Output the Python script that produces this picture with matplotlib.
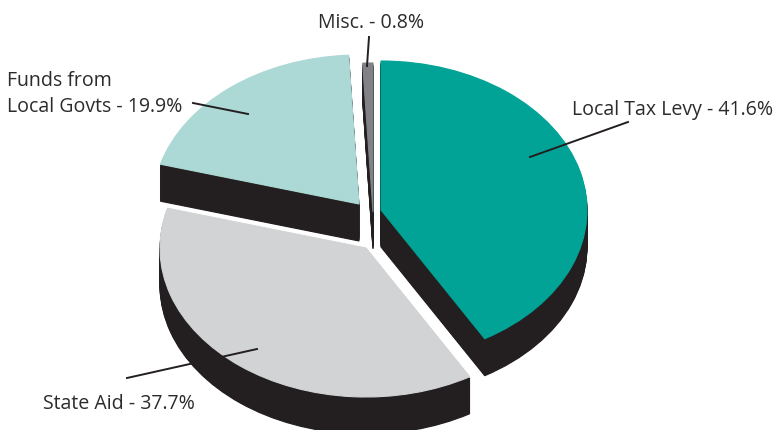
import matplotlib
matplotlib.use("Agg")
import matplotlib.pyplot as plt

# shares, clockwise from 12 o'clock
labels = ["Local Tax Levy", "State Aid", "Funds from\nLocal Govts", "Misc."]
shares = [41.6, 37.7, 19.9, 0.8]
colors = ["#00a396", "#d1d3d4", "#acd9d5", "#808285"]
dark = "#231f20"

W, H = 775, 430
RX, RY = 206, 149
DEPTH = 37
# pie centre of each slice, in pixels from top left
centers = [(381, 210), (366, 248), (359, 204), (373, 212)]
# drawing order, back slices first
order = [2, 3, 0, 1]

plt.rcParams["font.family"] = "Open Sans"

fig = plt.figure(figsize=(W / 100, H / 100), dpi=100)
ax = fig.add_axes([0, 0, 1, 1])


def draw_slice(i, cx, cy, color):
    start = 90 - sum(shares[:i]) * 3.6
    ax.pie([shares[i] / 100], startangle=start - shares[i] * 3.6, counterclock=True,
           normalize=False, colors=[color], center=(cx / RX, -cy / RY),
           wedgeprops={"linewidth": 0.8, "edgecolor": color}, radius=1)


for i in order:
    cx, cy = centers[i]
    # side wall, starts a bit lower so it does not fringe the top face
    for d in range(2, DEPTH + 1):
        draw_slice(i, cx, cy + d, dark)
    draw_slice(i, cx, cy, colors[i])

# pixel coords -> stretched data coords
ax.set_aspect("auto")
ax.set_xlim(0, W / RX)
ax.set_ylim(-H / RY, 0)
ax.axis("off")


def leader(x0, y0, x1, y1):
    ax.plot([x0 / RX, x1 / RX], [-y0 / RY, -y1 / RY], color=dark, lw=1.4, zorder=10)


leader(530, 157, 628, 122)
leader(193, 103, 248, 114)
leader(127, 378, 257, 349)
leader(369, 37, 367, 66)


def label(x, y, s):
    ax.text(x / RX, -y / RY, s, fontsize=14.05, color="#2b2b2b", ha="left", va="center",
            linespacing=1.4, zorder=11)


label(572, 110, labels[0] + " - 41.6%")
label(43, 404, labels[1] + " - 37.7%")
label(7, 94, labels[2] + " - 19.9%")
label(318, 23, labels[3] + " - 0.8%")

fig.savefig("out.png", dpi=100)
